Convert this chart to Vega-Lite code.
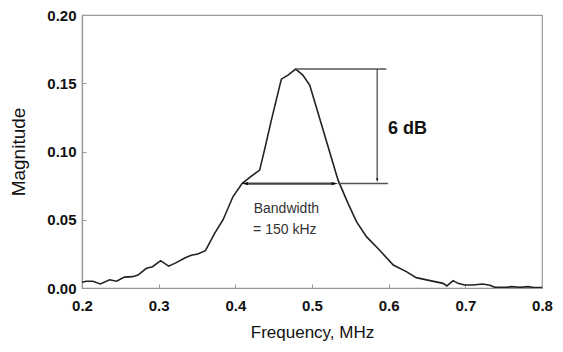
{
  "$schema": "https://vega.github.io/schema/vega-lite/v6.json",
  "autosize": "none",
  "padding": {"left": 82, "top": 15, "right": 21, "bottom": 64},
  "width": 460,
  "height": 273,
  "background": "white",
  "config": {
    "view": {"stroke": "#999", "strokeWidth": 1.2},
    "font": "Liberation Sans",
    "axis": {
      "grid": false,
      "domainColor": "#999",
      "domainWidth": 1.2,
      "tickColor": "#999",
      "tickSize": -4,
      "labelFlush": false,
      "labelOverlap": false,
      "labelFont": "Liberation Sans",
      "labelFontWeight": "bold",
      "labelFontSize": 15,
      "labelColor": "#111",
      "titleFont": "Liberation Sans",
      "titleFontWeight": "normal",
      "titleColor": "#111"
    }
  },
  "datasets": {
    "curve": [
      {"f": 0.2, "m": 0.0042}, {"f": 0.2055, "m": 0.005}, {"f": 0.214, "m": 0.005}, {"f": 0.224, "m": 0.003},
      {"f": 0.236, "m": 0.006}, {"f": 0.245, "m": 0.005}, {"f": 0.2555, "m": 0.008}, {"f": 0.266, "m": 0.0083},
      {"f": 0.273, "m": 0.0095}, {"f": 0.284, "m": 0.0144}, {"f": 0.292, "m": 0.0156}, {"f": 0.3025, "m": 0.02},
      {"f": 0.313, "m": 0.016}, {"f": 0.323, "m": 0.0186}, {"f": 0.334, "m": 0.022}, {"f": 0.3425, "m": 0.024},
      {"f": 0.351, "m": 0.0249}, {"f": 0.361, "m": 0.0273}, {"f": 0.373, "m": 0.04}, {"f": 0.384, "m": 0.05},
      {"f": 0.397, "m": 0.067}, {"f": 0.409, "m": 0.0767}, {"f": 0.421, "m": 0.082}, {"f": 0.4317, "m": 0.0864},
      {"f": 0.438, "m": 0.101}, {"f": 0.447, "m": 0.123}, {"f": 0.46, "m": 0.153}, {"f": 0.4687, "m": 0.156},
      {"f": 0.4787, "m": 0.1604}, {"f": 0.488, "m": 0.156}, {"f": 0.497, "m": 0.1487}, {"f": 0.508, "m": 0.128},
      {"f": 0.521, "m": 0.1035}, {"f": 0.534, "m": 0.079}, {"f": 0.547, "m": 0.062}, {"f": 0.558, "m": 0.0486},
      {"f": 0.571, "m": 0.0376}, {"f": 0.588, "m": 0.0278}, {"f": 0.606, "m": 0.0168}, {"f": 0.623, "m": 0.012},
      {"f": 0.636, "m": 0.0076}, {"f": 0.654, "m": 0.0054}, {"f": 0.671, "m": 0.0034}, {"f": 0.676, "m": 0.0015},
      {"f": 0.684, "m": 0.0054}, {"f": 0.6905, "m": 0.0034}, {"f": 0.699, "m": 0.0022}, {"f": 0.71, "m": 0.0022},
      {"f": 0.7225, "m": 0.0029}, {"f": 0.732, "m": 0.002}, {"f": 0.7385, "m": 0.0005}, {"f": 0.754, "m": 0.0005},
      {"f": 0.76, "m": 0.001}, {"f": 0.771, "m": 0.0005}, {"f": 0.782, "m": 0.001}, {"f": 0.7885, "m": 0.0003},
      {"f": 0.8, "m": 0.0003}
    ]
  },
  "layer": [
    {
      "data": {"name": "curve"},
      "mark": {"type": "line", "color": "#222", "strokeWidth": 1.6, "clip": true},
      "encoding": {
        "x": {
          "field": "f", "type": "quantitative",
          "scale": {"domain": [0.2, 0.8], "nice": false, "zero": false},
          "axis": {
            "title": "Frequency, MHz",
            "titleFontSize": 17,
            "values": [0.2, 0.25, 0.3, 0.35, 0.4, 0.45, 0.5, 0.55, 0.6, 0.65, 0.7, 0.75, 0.8],
            "labelExpr": "abs(datum.value*10 - round(datum.value*10)) < 0.001 ? format(datum.value, '.1f') : ''",
            "labelPadding": 14,
            "titlePadding": 11
          }
        },
        "y": {
          "field": "m", "type": "quantitative",
          "scale": {"domain": [0, 0.2], "nice": false},
          "axis": {
            "title": "Magnitude",
            "titleFontSize": 19,
            "values": [0, 0.025, 0.05, 0.075, 0.1, 0.125, 0.15, 0.175, 0.2],
            "labelExpr": "abs(datum.value*20 - round(datum.value*20)) < 0.001 ? format(datum.value, '.2f') : ''",
            "labelPadding": 10,
            "titlePadding": 18
          }
        }
      }
    },
    {
      "data": {"values": [{"f": 0.4787, "f2": 0.597, "m": 0.1604, "m2": 0.1604}, {"f": 0.534, "f2": 0.599, "m": 0.0765, "m2": 0.0765}]},
      "mark": {"type": "rule", "color": "#555", "strokeWidth": 1.5},
      "encoding": {
        "x": {"field": "f", "type": "quantitative"}, "x2": {"field": "f2"},
        "y": {"field": "m", "type": "quantitative"}, "y2": {"field": "m2"}
      }
    },
    {
      "data": {"values": [{"f": 0.585, "f2": 0.585, "m": 0.1604, "m2": 0.08}]},
      "mark": {"type": "rule", "color": "#444", "strokeWidth": 1.2},
      "encoding": {
        "x": {"field": "f", "type": "quantitative"}, "x2": {"field": "f2"},
        "y": {"field": "m", "type": "quantitative"}, "y2": {"field": "m2"}
      }
    },
    {
      "data": {"values": [{"f": 0.415, "f2": 0.528, "m": 0.0765, "m2": 0.0765}]},
      "mark": {"type": "rule", "color": "#444", "strokeWidth": 2.2},
      "encoding": {
        "x": {"field": "f", "type": "quantitative"}, "x2": {"field": "f2"},
        "y": {"field": "m", "type": "quantitative"}, "y2": {"field": "m2"}
      }
    },
    {
      "data": {"values": [{"f": 0.408, "m": 0.0765}]},
      "mark": {"type": "point", "shape": "M0,0L1,-0.25L1,0.25Z", "size": 169, "filled": true, "color": "#111", "opacity": 1},
      "encoding": {"x": {"field": "f", "type": "quantitative"}, "y": {"field": "m", "type": "quantitative"}}
    },
    {
      "data": {"values": [{"f": 0.534, "m": 0.0765}]},
      "mark": {"type": "point", "shape": "M0,0L-1,-0.25L-1,0.25Z", "size": 169, "filled": true, "color": "#111", "opacity": 1},
      "encoding": {"x": {"field": "f", "type": "quantitative"}, "y": {"field": "m", "type": "quantitative"}}
    },
    {
      "data": {"values": [{"f": 0.585, "m": 0.0775}]},
      "mark": {"type": "point", "shape": "M0,0L-0.3,-1L0.3,-1Z", "size": 64, "filled": true, "color": "#111", "opacity": 1},
      "encoding": {"x": {"field": "f", "type": "quantitative"}, "y": {"field": "m", "type": "quantitative"}}
    },
    {
      "data": {"values": [{"f": 0.599, "m": 0.1165, "t": "6 dB"}]},
      "mark": {"type": "text", "align": "left", "baseline": "middle", "fontSize": 18, "fontWeight": "bold", "color": "#111", "font": "Liberation Sans"},
      "encoding": {"x": {"field": "f", "type": "quantitative"}, "y": {"field": "m", "type": "quantitative"}, "text": {"field": "t"}}
    },
    {
      "data": {"values": [{"f": 0.4666, "m": 0.0577, "t": "Bandwidth"}, {"f": 0.4645, "m": 0.0425, "t": "= 150 kHz"}]},
      "mark": {"type": "text", "align": "center", "baseline": "middle", "fontSize": 14, "color": "#333", "font": "Liberation Sans"},
      "encoding": {"x": {"field": "f", "type": "quantitative"}, "y": {"field": "m", "type": "quantitative"}, "text": {"field": "t"}}
    }
  ]
}
